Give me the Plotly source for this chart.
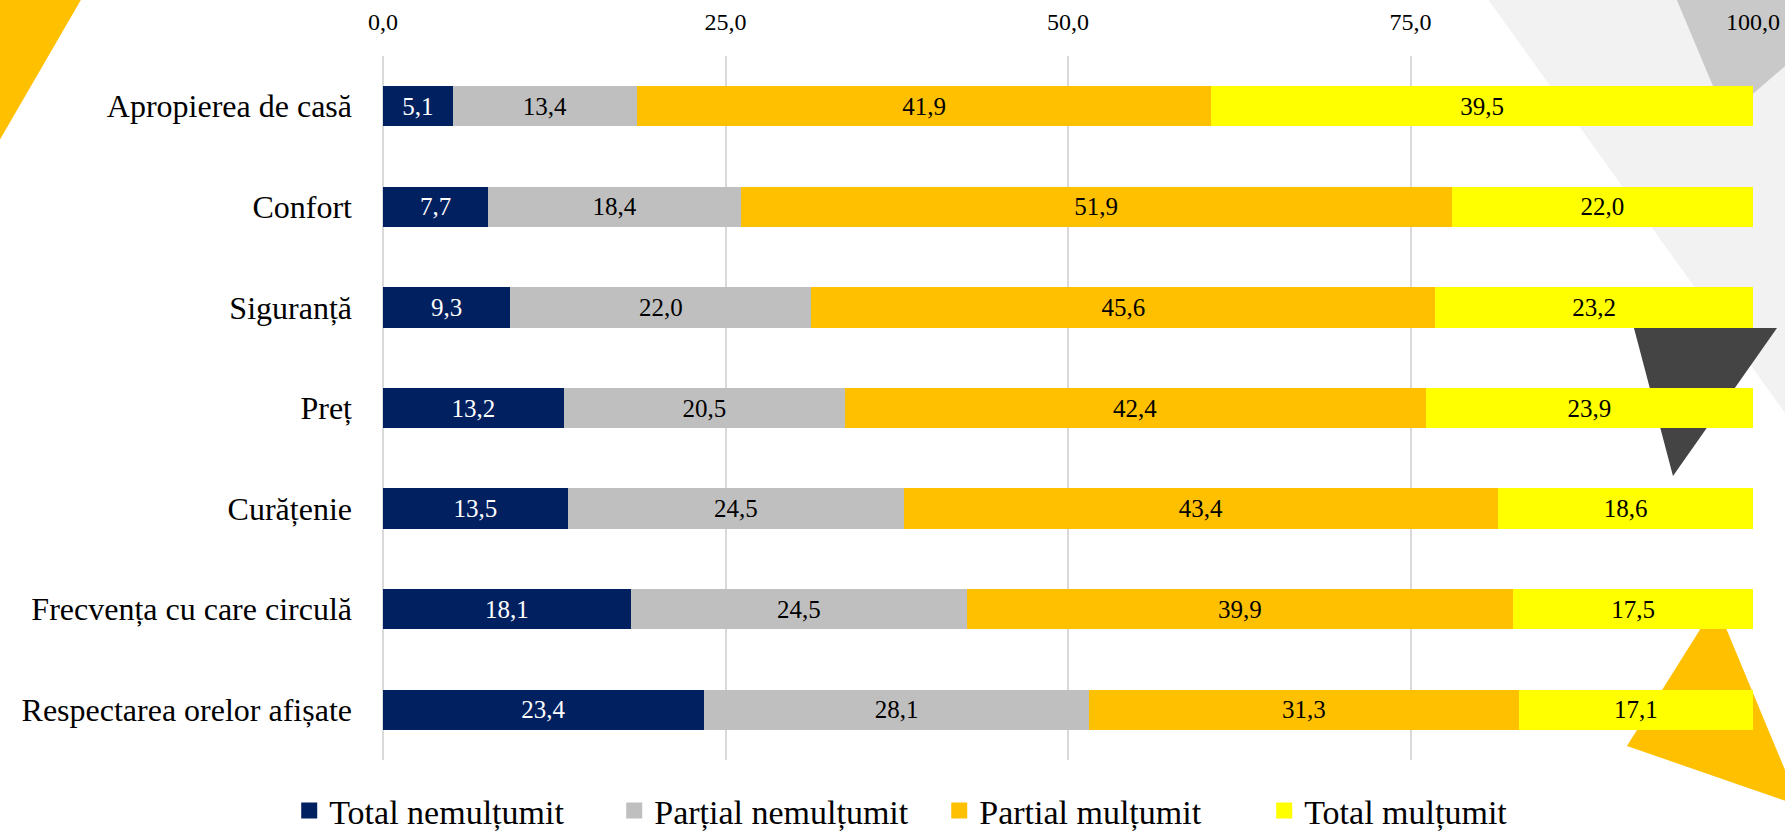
import plotly.graph_objects as go

categories = ["Apropierea de casă", "Confort", "Siguranță", "Preț", "Curățenie",
              "Frecvența cu care circulă", "Respectarea orelor afișate"]
series_names = ["Total nemulțumit", "Parțial nemulțumit", "Partial mulțumit", "Total mulțumit"]
total_nemultumit = [5.1, 7.7, 9.3, 13.2, 13.5, 18.1, 23.4]
partial_nemultumit = [13.4, 18.4, 22.0, 20.5, 24.5, 24.5, 28.1]
partial_multumit = [41.9, 51.9, 45.6, 42.4, 43.4, 39.9, 31.3]
total_multumit = [39.5, 22.0, 23.2, 23.9, 18.6, 17.5, 17.1]
tick_vals = [0, 25, 50, 75, 100]
tick_labels = ["0,0", "25,0", "50,0", "75,0", "100,0"]

colors = ["#002060", "#BFBFBF", "#FFC000", "#FFFF00"]
text_colors = ["white", "black", "black", "black"]
FONT = "Liberation Serif"

W, H = 1785, 832
L, R, T, B = 383, 32, 56, 72
PW, PH = W - L - R, H - T - B


def to_paper(pts):
    return [((x - L) / PW, (H - B - y) / PH) for x, y in pts]


def path(pts):
    p = to_paper(pts)
    return "M " + " L ".join(f"{x:.4f},{y:.4f}" for x, y in p) + " Z"


fig = go.Figure()
all_series = [total_nemultumit, partial_nemultumit, partial_multumit, total_multumit]
for name, vals, col, tc in zip(series_names, all_series, colors, text_colors):
    fig.add_trace(go.Bar(
        y=categories, x=vals, name=name, orientation="h",
        marker=dict(color=col, line=dict(width=0)),
        text=[f"{v:.1f}".replace(".", ",") for v in vals],
        textposition="inside", insidetextanchor="middle", textangle=0,
        textfont=dict(family=FONT, size=25, color=tc),
        constraintext="none", showlegend=False, width=0.4,
    ))
    fig.add_trace(go.Scatter(
        x=[None], y=[None], mode="markers", name=name,
        marker=dict(symbol="square", size=16, color=col), showlegend=True,
    ))

decor = [
    ([(-2, -2), (82, -2), (-2, 143)], "#FFC000"),
    ([(1487, -2), (1790, -2), (1790, 420)], "#F2F2F2"),
    ([(1676, -2), (1790, -2), (1790, 62), (1726, 117)], "#C9C9C9"),
    ([(1634, 328), (1777, 328), (1673, 476)], "#444444"),
    ([(1716, 604), (1627, 746), (1800, 806)], "#FFC000"),
]
shapes = [dict(type="path", path=path(pts), xref="paper", yref="paper",
               fillcolor=c, line=dict(width=0), layer="below") for pts, c in decor]

fig.update_layout(
    width=W, height=H, barmode="stack", barnorm="percent",
    margin=dict(l=L, r=R, t=T, b=B, autoexpand=False),
    paper_bgcolor="white", plot_bgcolor="rgba(0,0,0,0)",
    font=dict(family=FONT, color="black"),
    shapes=shapes,
    xaxis=dict(side="top", range=[0, 100], tickvals=tick_vals, ticktext=tick_labels,
               showgrid=True, gridcolor="#D9D9D9", gridwidth=1.5,
               zeroline=True, zerolinecolor="#D9D9D9", zerolinewidth=1.5,
               showline=False, ticks="", ticklabelstandoff=20, ticklabeloverflow="allow",
               tickfont=dict(family=FONT, size=24, color="black"), fixedrange=True),
    yaxis=dict(autorange="reversed", showgrid=False, zeroline=False, showline=False,
               ticks="", ticklabelstandoff=30,
               tickfont=dict(family=FONT, size=32, color="black")),
    legend=dict(orientation="h", x=0.406, xanchor="center", y=-0.0724, yanchor="middle",
                traceorder="normal",
                font=dict(family=FONT, size=34, color="black"),
                bgcolor="rgba(0,0,0,0)", itemsizing="trace",
                entrywidth=280, entrywidthmode="pixels"),
)

fig.write_html("out.html", config={"displayModeBar": False},
               post_script="document.body.style.margin='0';document.body.style.overflow='hidden';")
